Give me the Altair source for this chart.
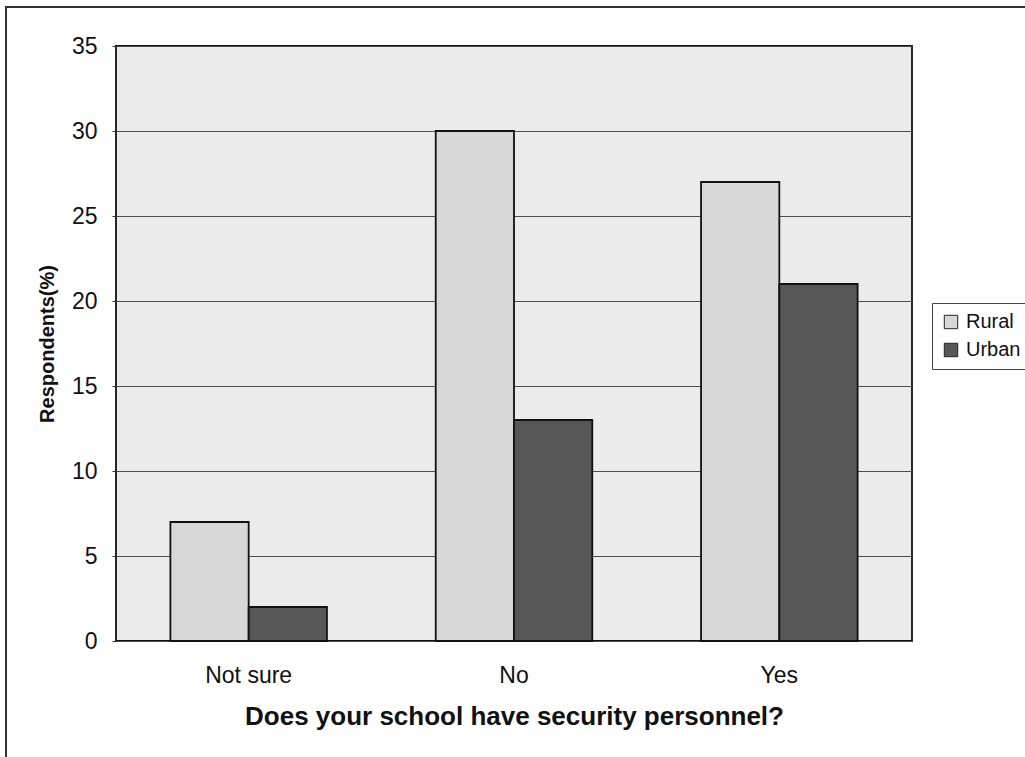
import altair as alt
import pandas as pd

categories = ["Not sure", "No", "Yes"]
rural = [7, 30, 27]
urban = [2, 13, 21]

rows = []
for c, r, u in zip(categories, rural, urban):
    rows.append({"answer": c, "group": "Rural", "value": r})
    rows.append({"answer": c, "group": "Urban", "value": u})
df = pd.DataFrame(rows)

FONT = "Liberation Sans"

bars = alt.Chart(df).mark_bar(stroke="#111111", strokeWidth=1.8).encode(
    x=alt.X("answer:N", sort=categories,
            scale=alt.Scale(paddingInner=0.41, paddingOuter=0.205),
            axis=alt.Axis(title="Does your school have security personnel?",
                          labelAngle=0, labelFontSize=23, labelColor="#111",
                          labelPadding=23, ticks=False, domain=False,
                          titleFontSize=26, titleFontWeight="bold", titlePadding=16,
                          titleColor="#111", labelFont=FONT, titleFont=FONT)),
    xOffset=alt.XOffset("group:N", sort=["Rural", "Urban"],
                        scale=alt.Scale(paddingInner=0, paddingOuter=0)),
    y=alt.Y("value:Q", scale=alt.Scale(domain=[0, 35], nice=False),
            axis=alt.Axis(title="Respondents(%)", values=[0, 5, 10, 15, 20, 25, 30, 35],
                          labelFontSize=23, labelColor="#111", labelPadding=15,
                          tickSize=4, tickColor="#333", domain=False,
                          gridColor="#4d4d4d", gridWidth=1.2,
                          titleFontSize=20, titleFontWeight="bold", titlePadding=14,
                          titleColor="#111", labelFont=FONT, titleFont=FONT)),
    color=alt.Color("group:N", sort=["Rural", "Urban"],
                    scale=alt.Scale(domain=["Rural", "Urban"], range=["#d7d7d7", "#575757"]),
                    legend=alt.Legend(title=None, orient="none", legendX=816, legendY=257,
                                      labelFontSize=20, labelFont=FONT, labelColor="#111",
                                      symbolType="square", symbolSize=180,
                                      symbolStrokeColor="#222", symbolStrokeWidth=1,
                                      labelOffset=5, padding=9, rowPadding=8,
                                      strokeColor="#444", fillColor="white")),
)

border = alt.Chart(pd.DataFrame({"a": [0]})).mark_rect(
    fill=None, stroke="#333333", strokeWidth=2
).encode(
    x=alt.value(-110), x2=alt.value(930),
    y=alt.value(-39), y2=alt.value(715),
)

chart = alt.layer(bars, border).properties(
    width=796, height=595,
    autosize=alt.AutoSizeParams(type="none"),
    padding={"left": 116, "top": 46, "right": 113, "bottom": 116},
    background="white",
).configure_view(
    fill="#ebebeb", stroke="#111111", strokeWidth=1.8
)

chart.save("out.html", embed_options={"renderer": "svg", "actions": False})
